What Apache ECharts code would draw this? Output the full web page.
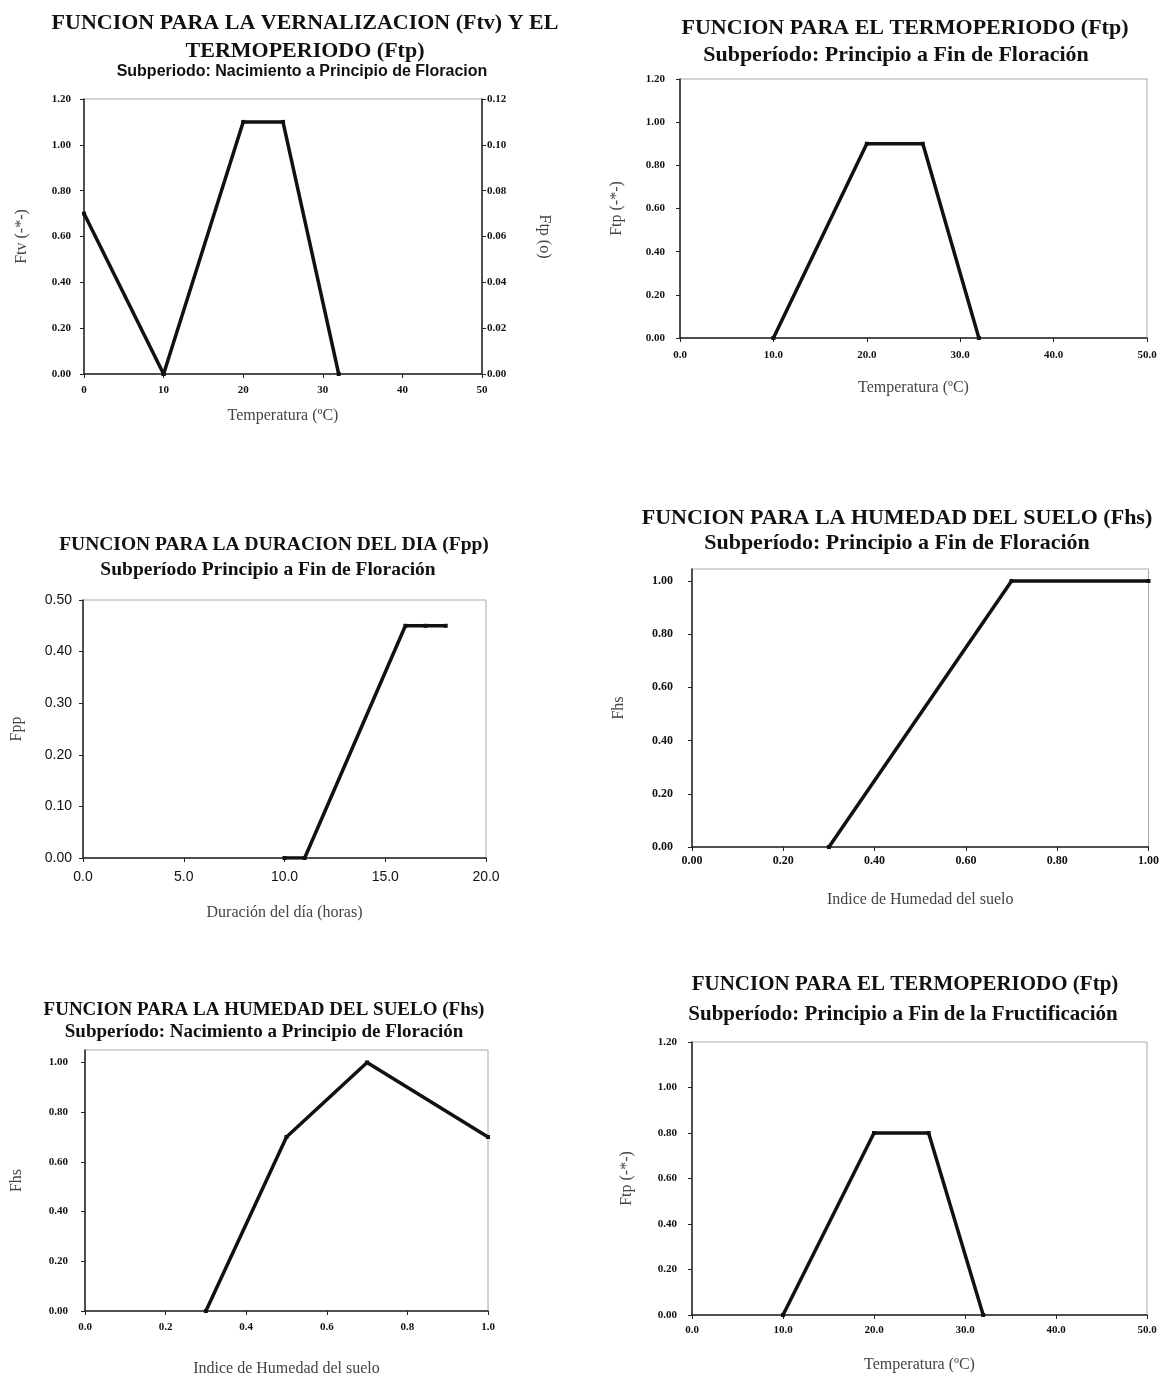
<!DOCTYPE html>
<html>
<head>
<meta charset="UTF-8">
<title>Funciones de desarrollo</title>
<style>
	* { margin: 0; padding: 0; }
	body { background: #fff; }
	#main { width: 1162px; height: 1378px; }
</style>
<script src="https://cdn.jsdelivr.net/npm/echarts@6/dist/echarts.min.js"></script>
</head>
<body>
<div id="main"></div>
<script>
// 1: vernalizacion (Ftv, eje izq.) y termoperiodo (Ftp, eje der.)
var vernTemp = [0, 10];
var vernFtv = [0.70, 0.00];
var termo1Temp = [10, 20, 25, 32];
var termo1Ftp = [0.000, 0.110, 0.110, 0.000];
// 2: termoperiodo, principio a fin de floracion
var termo2Temp = [10, 20, 26, 32];
var termo2Ftp = [0.00, 0.90, 0.90, 0.00];
// 3: duracion del dia
var diaHoras = [10, 11, 16, 17, 18];
var diaFpp = [0.00, 0.00, 0.45, 0.45, 0.45];
// 4: humedad del suelo, principio a fin de floracion
var hum2Indice = [0.30, 0.70, 1.00];
var hum2Fhs = [0.00, 1.00, 1.00];
// 5: humedad del suelo, nacimiento a principio de floracion
var hum1Indice = [0.3, 0.5, 0.7, 1.0];
var hum1Fhs = [0.00, 0.70, 1.00, 0.70];
// 6: termoperiodo, fructificacion
var termo3Temp = [10, 20, 26, 32];
var termo3Ftp = [0.00, 0.80, 0.80, 0.00];
// marcas del eje Fhs (el eje llega un poco por encima de 1)
var fhsTicks = [0, 0.2, 0.4, 0.6, 0.8, 1.0];

var SERIF = "'Liberation Serif', 'Times New Roman', serif";
var SANS = "'Liberation Sans', Arial, sans-serif";

function pares(xs, ys) {
	var out = [];
	for (var i = 0; i < xs.length; i++) out.push([xs[i], ys[i]]);
	return out;
}

function eje(gi, min, max, interval, dec, name, gap, margin, fs, sans) {
	return {
		type: 'value', gridIndex: gi, min: min, max: max, interval: interval,
		name: name, nameLocation: 'middle', nameGap: gap,
		nameTextStyle: { fontFamily: SERIF, fontSize: 16, color: '#444' },
		axisLine: { show: true, onZero: false, lineStyle: { color: '#222', width: 1.5 } },
		axisTick: { show: true, length: 4, lineStyle: { color: '#222' } },
		axisLabel: {
			margin: margin, color: '#111',
			fontFamily: sans ? SANS : SERIF,
			fontWeight: sans ? 'normal' : 'bold',
			fontSize: fs,
			formatter: function (v) { return v.toFixed(dec); }
		},
		splitLine: { show: false }
	};
}

function serie(xi, yi, data) {
	return {
		type: 'line', xAxisIndex: xi, yAxisIndex: yi, data: data,
		symbol: 'rect', symbolSize: 4, showSymbol: true,
		lineStyle: { color: '#111', width: 3.5 },
		itemStyle: { color: '#111' },
		animation: false
	};
}

// cx, cy: centro de la primera linea del texto
function titulo(text, cx, cy, size, font) {
	var lh = size + 6;
	return {
		text: text, left: cx, top: cy - lh / 2, padding: 0,
		textAlign: 'center', textVerticalAlign: 'top',
		textStyle: { fontFamily: font || SERIF, fontWeight: 'bold', fontSize: size, color: '#111', lineHeight: lh }
	};
}

var frame = { show: true, borderColor: '#aaa', borderWidth: 1, backgroundColor: 'transparent' };

var grids = [
	Object.assign({ left: 84, top: 99, width: 398, height: 275 }, frame),
	Object.assign({ left: 680, top: 79, width: 467, height: 259 }, frame),
	Object.assign({ left: 83, top: 600, width: 403, height: 258 }, frame),
	Object.assign({ left: 692, top: 569, width: 457, height: 278 }, frame),
	Object.assign({ left: 85, top: 1050, width: 403, height: 264 }, frame),
	Object.assign({ left: 692, top: 1042, width: 455, height: 273 }, frame)
];

var xAxes = [
	eje(0, 0, 50, 10, 0, 'Temperatura (ºC)', 34, 11, 11),
	eje(1, 0, 50, 10, 1, 'Temperatura (ºC)', 42, 12, 11),
	eje(2, 0, 20, 5, 1, 'Duración del día (horas)', 47, 12, 14, true),
	eje(3, 0, 1, 0.2, 2, 'Indice de Humedad del suelo', 45, 8, 12),
	eje(4, 0, 1, 0.2, 1, 'Indice de Humedad del suelo', 50, 11, 11),
	eje(5, 0, 50, 10, 1, 'Temperatura (ºC)', 42, 10, 11)
];

var yFtp1 = eje(0, 0, 0.12, 0.02, 2, 'Ftp (o)', 54, 5, 11);
yFtp1.position = 'right';
yFtp1.nameRotate = -90;

var yFhs2 = eje(3, 0, 1.045, 0.2, 2, 'Fhs', 65, 19, 12);
yFhs2.axisLabel.customValues = fhsTicks;
yFhs2.axisTick.customValues = fhsTicks;
var yFhs1 = eje(4, 0, 1.05, 0.2, 2, 'Fhs', 60, 17, 11);
yFhs1.axisLabel.customValues = fhsTicks;
yFhs1.axisTick.customValues = fhsTicks;

var yAxes = [
	eje(0, 0, 1.2, 0.2, 2, 'Ftv (-*-)', 54, 13, 11),
	yFtp1,
	eje(1, 0, 1.2, 0.2, 2, 'Ftp (-*-)', 55, 15, 11),
	eje(2, 0, 0.5, 0.1, 2, 'Fpp', 58, 11, 14, true),
	yFhs2,
	yFhs1,
	eje(5, 0, 1.2, 0.2, 2, 'Ftp (-*-)', 57, 15, 11)
];

var option = {
	backgroundColor: '#fff',
	animation: false,
	title: [
		titulo('FUNCION PARA LA VERNALIZACION (Ftv) Y EL\nTERMOPERIODO (Ftp)', 305, 23, 22),
		titulo('Subperiodo: Nacimiento a Principio de Floracion', 302, 72, 16, SANS),
		titulo('FUNCION PARA EL TERMOPERIODO (Ftp)', 905, 28, 22),
		titulo('Subperíodo: Principio a Fin de Floración', 896, 55, 22),
		titulo('FUNCION PARA LA DURACION DEL DIA (Fpp)', 274, 545, 19.5),
		titulo('Subperíodo Principio a Fin de Floración', 268, 570, 19.5),
		titulo('FUNCION PARA LA HUMEDAD DEL SUELO (Fhs)', 897, 518, 22),
		titulo('Subperíodo: Principio a Fin de Floración', 897, 543, 22),
		titulo('FUNCION PARA LA HUMEDAD DEL SUELO (Fhs)', 264, 1010, 19),
		titulo('Subperíodo: Nacimiento a Principio de Floración', 264, 1032, 19),
		titulo('FUNCION PARA EL TERMOPERIODO (Ftp)', 905, 985, 21),
		titulo('Subperíodo: Principio a Fin de la Fructificación', 903, 1015, 21)
	],
	grid: grids,
	xAxis: xAxes,
	yAxis: yAxes,
	series: [
		serie(0, 0, pares(vernTemp, vernFtv)),
		serie(0, 1, pares(termo1Temp, termo1Ftp)),
		serie(1, 2, pares(termo2Temp, termo2Ftp)),
		serie(2, 3, pares(diaHoras, diaFpp)),
		serie(3, 4, pares(hum2Indice, hum2Fhs)),
		serie(4, 5, pares(hum1Indice, hum1Fhs)),
		serie(5, 6, pares(termo3Temp, termo3Ftp))
	]
};

var myChart = echarts.init(document.getElementById('main'));
myChart.setOption(option);
</script>
</body>
</html>
